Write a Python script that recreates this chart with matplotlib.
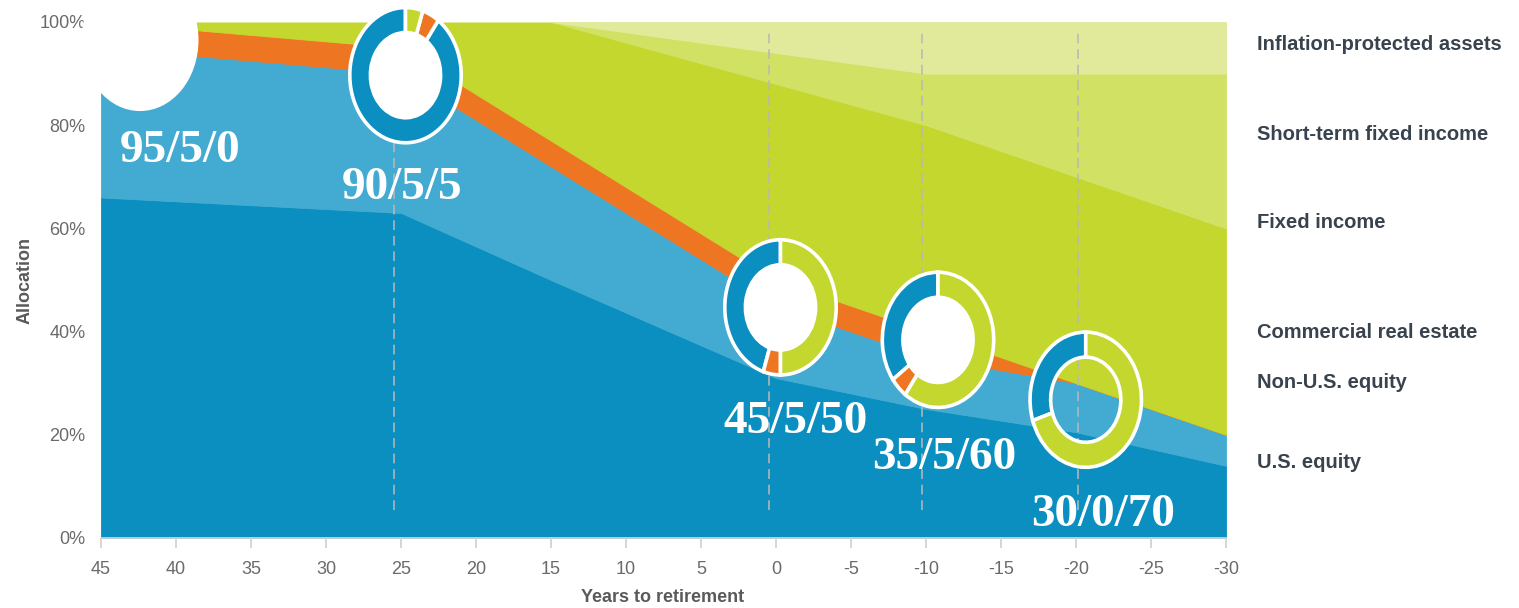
import matplotlib
matplotlib.use("Agg")
import matplotlib.pyplot as plt
from matplotlib.patches import Wedge, Circle
from matplotlib.ticker import FuncFormatter

plt.rcParams["axes.unicode_minus"] = False

# glide path key points (years to retirement) and allocation in %
years = [45, 25, 15, 0, -10, -20, -30]
us_equity = [66, 63, 50, 31, 25, 20.5, 14]
non_us_equity = [29, 27, 22, 14, 10, 9.5, 6]
real_estate = [5, 5, 5, 5, 5, 0, 0]
fixed_income = [0, 5, 23, 38, 40, 40, 40]
short_term = [0, 0, 0, 6, 10, 20, 30]
inflation_protected = [0, 0, 0, 6, 10, 10, 10]

series_names = ["U.S. equity", "Non-U.S. equity", "Commercial real estate",
                "Fixed income", "Short-term fixed income",
                "Inflation-protected assets"]
colors = ["#0a8fc0", "#43abd1", "#ee7623", "#c3d72e", "#d1e163", "#e1ea9a"]

# snapshots: equity / real estate / fixed income
snap_equity = [95, 90, 45, 35, 30]
snap_estate = [5, 5, 5, 5, 0]
snap_fixed = [0, 5, 50, 60, 70]
snap_center = [(42.4, 96.5), (24.7, 89.7), (-0.3, 44.7), (-10.8, 38.4), (-20.65, 26.8)]
snap_label_pos = [(39.7, 72.9), (24.9, 65.7), (-1.3, 20.3), (-11.2, 13.4), (-21.8, 2.3)]
dash_years = [25.5, 0.5, -9.7, -20.1]

# label y positions (pixels from top) for the right-hand legend
legend_y_px = [462, 383, 332, 223, 135, 45]

W, H = 1519, 608
fig = plt.figure(figsize=(W / 100, H / 100), dpi=100)
ax = fig.add_axes([101 / W, 70 / H, 1125 / W, 516 / H])

ax.stackplot(years, us_equity, non_us_equity, real_estate, fixed_income,
             short_term, inflation_protected, colors=colors,
             linewidth=0.6, edgecolor="face")
ax.set_xlim(45, -30)
ax.set_ylim(0, 100)

ax.vlines(dash_years, 5.4, 98.8, colors="#b8b8b8", alpha=0.8,
          linestyles=(0, (5, 3)), linewidth=1.4, zorder=3)

for s in ["top", "right", "left"]:
    ax.spines[s].set_visible(False)
ax.spines["bottom"].set_color("#d8d8d8")
ax.spines["bottom"].set_linewidth(1.2)

ax.set_yticks(range(0, 101, 20))
ax.yaxis.set_major_formatter(FuncFormatter(lambda v, p: "%d%%" % v))
ax.set_xticks(range(45, -31, -5))
ax.tick_params(axis="y", length=0, pad=11, labelsize=13, labelcolor="#6a6a6a")
ax.tick_params(axis="x", length=7, width=1.2, color="#d0d0d0", pad=9.5,
               labelsize=13, labelcolor="#6a6a6a")
for lab in ax.get_xticklabels() + ax.get_yticklabels():
    lab.set_family("Liberation Sans")

fig.text(663 / W, 1 - 597 / H, "Years to retirement", ha="center", va="center",
         fontsize=13, fontweight="bold", color="#5a5a5a", family="Liberation Sans")
fig.text(25 / W, 1 - 280 / H, "Allocation", ha="center", va="center",
         rotation=90, fontsize=13, fontweight="bold", color="#5a5a5a",
         family="Liberation Sans")

for name, ypx in zip(series_names, legend_y_px):
    fig.text(1257 / W, 1 - ypx / H, name, ha="left", va="center",
             fontsize=14.5, fontweight="bold", color="#38434e",
             family="Liberation Sans")

# donuts, drawn in their own small axes so they come out as tall ellipses
pos = ax.get_position()
dw, dh = 117 / 1125, 142 / 516
ring_cols = [colors[0], colors[2], colors[3]]
for i, (xc, yc) in enumerate(snap_center):
    fx = (45 - xc) / 75.0
    fy = yc / 100.0
    dax = fig.add_axes([pos.x0 + (fx - dw / 2) * pos.width,
                        pos.y0 + (fy - dh / 2) * pos.height,
                        dw * pos.width, dh * pos.height])
    dax.set_xlim(-1.05, 1.05)
    dax.set_ylim(-1.05, 1.05)
    dax.set_aspect("auto")
    dax.axis("off")
    if i == 0:
        # first snapshot shows only as a blank white disc
        dax.add_patch(Circle((0, 0), 1.05, facecolor="white", edgecolor="none",
                             clip_on=False))
        continue
    vals = [snap_equity[i], snap_estate[i], snap_fixed[i]]
    start = 90.0
    for v, c in zip(vals, ring_cols):
        if v == 0:
            continue
        end = start + 360.0 * v / 100.0
        dax.add_patch(Wedge((0, 0), 1.0, start, end, width=0.37, facecolor=c,
                            edgecolor="white", linewidth=2.6, clip_on=False))
        start = end
    if i < 4:
        dax.add_patch(Circle((0, 0), 0.62, facecolor="white", edgecolor="white",
                             clip_on=False))

for i, (xl, yl) in enumerate(snap_label_pos):
    txt = "%d/%d/%d" % (snap_equity[i], snap_estate[i], snap_fixed[i])
    ax.text(xl, yl, txt, ha="center", va="baseline", fontsize=34,
            fontweight="bold", color="white", family="Liberation Serif", zorder=6)

fig.savefig("out.png", dpi=100)
